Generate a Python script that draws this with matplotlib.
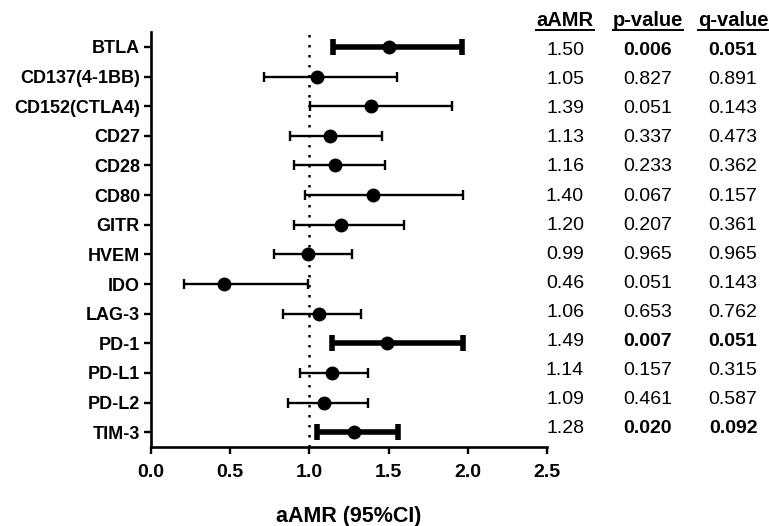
import numpy as np
import matplotlib.pyplot as plt
from matplotlib.lines import Line2D

plt.rcParams['font.family'] = ['Liberation Sans', 'DejaVu Sans']

# data
markers = ['BTLA', 'CD137(4-1BB)', 'CD152(CTLA4)', 'CD27', 'CD28', 'CD80', 'GITR',
           'HVEM', 'IDO', 'LAG-3', 'PD-1', 'PD-L1', 'PD-L2', 'TIM-3']
aamr = [1.50, 1.05, 1.39, 1.13, 1.16, 1.40, 1.20, 0.99, 0.46, 1.06, 1.49, 1.14, 1.09, 1.28]
ci_low = [1.15, 0.71, 1.005, 0.875, 0.905, 0.975, 0.905, 0.775, 0.21, 0.835, 1.14, 0.94, 0.865, 1.045]
ci_high = [1.96, 1.55, 1.90, 1.46, 1.48, 1.97, 1.60, 1.27, 0.99, 1.325, 1.97, 1.37, 1.37, 1.56]
pvals = ['0.006', '0.827', '0.051', '0.337', '0.233', '0.067', '0.207',
         '0.965', '0.051', '0.653', '0.007', '0.157', '0.461', '0.020']
qvals = ['0.051', '0.891', '0.143', '0.473', '0.362', '0.157', '0.361',
         '0.965', '0.143', '0.762', '0.051', '0.315', '0.587', '0.092']

W, H = 769, 526
fig = plt.figure(figsize=(W / 100, H / 100), dpi=100)
ax = fig.add_axes([0.1964, 0.150, 0.5150, 0.789])

y = np.arange(len(markers))
sig = [float(p) < 0.05 for p in pvals]

for i in range(len(markers)):
    lo = aamr[i] - ci_low[i]
    hi = ci_high[i] - aamr[i]
    if sig[i]:
        lw, cs, ct = 4.0, 5.5, 4.0
    else:
        lw, cs, ct = 1.7, 3.8, 1.7
    ax.errorbar(aamr[i], y[i], xerr=[[lo], [hi]], fmt='o', color='black',
                ecolor='black', elinewidth=lw, capsize=cs, capthick=ct,
                markersize=9, zorder=3)

ax.axvline(1.0, color='black', linestyle=(0, (1, 3)), linewidth=1.8, zorder=1)

ax.set_xlim(0, 2.5)
ax.set_ylim(13.5, -0.5)
ax.set_xticks([0, 0.5, 1.0, 1.5, 2.0, 2.5])
ax.set_xticklabels(['0.0', '0.5', '1.0', '1.5', '2.0', '2.5'], fontweight='bold', fontsize=14)
ax.set_yticks(y)
ax.set_yticklabels(markers, fontweight='bold', fontsize=13)
ax.tick_params(axis='both', direction='out', length=5, width=1.7, pad=3)
ax.tick_params(axis='x', pad=7)
for s in ['top', 'right']:
    ax.spines[s].set_visible(False)
for s in ['left', 'bottom']:
    ax.spines[s].set_linewidth(1.9)

ax.set_xlabel('aAMR (95%CI)', fontweight='bold', fontsize=15.5, labelpad=18)

# table on the right (its own row grid, baselines in pixels from top)
cols_x = [565 / W, 648 / W, 733 / W]
first_base, last_base = 55.0, 433.3
step = (last_base - first_base) / (len(markers) - 1)
for i in range(len(markers)):
    yb = 1 - (first_base + i * step) / H
    fig.text(cols_x[0], yb, f'{aamr[i]:.2f}', ha='center', va='baseline', fontsize=14)
    fig.text(cols_x[1], yb, pvals[i], ha='center', va='baseline', fontsize=14,
             fontweight='bold' if sig[i] else 'normal')
    fig.text(cols_x[2], yb, qvals[i], ha='center', va='baseline', fontsize=14,
             fontweight='bold' if sig[i] else 'normal')

headers = ['aAMR', 'p-value', 'q-value']
hdr_texts = []
for cx, h in zip(cols_x, headers):
    t = fig.text(cx, 1 - 26.5 / H, h, ha='center', va='baseline',
                 fontsize=14.5, fontweight='bold')
    hdr_texts.append(t)

fig.canvas.draw()
r = fig.canvas.get_renderer()
for t in hdr_texts:
    bb = t.get_window_extent(r).transformed(fig.transFigure.inverted())
    fig.add_artist(Line2D([bb.x0, bb.x1], [1 - 29.5 / H] * 2, color='black',
                          linewidth=1.4, transform=fig.transFigure))

fig.savefig('out.png', dpi=100)
